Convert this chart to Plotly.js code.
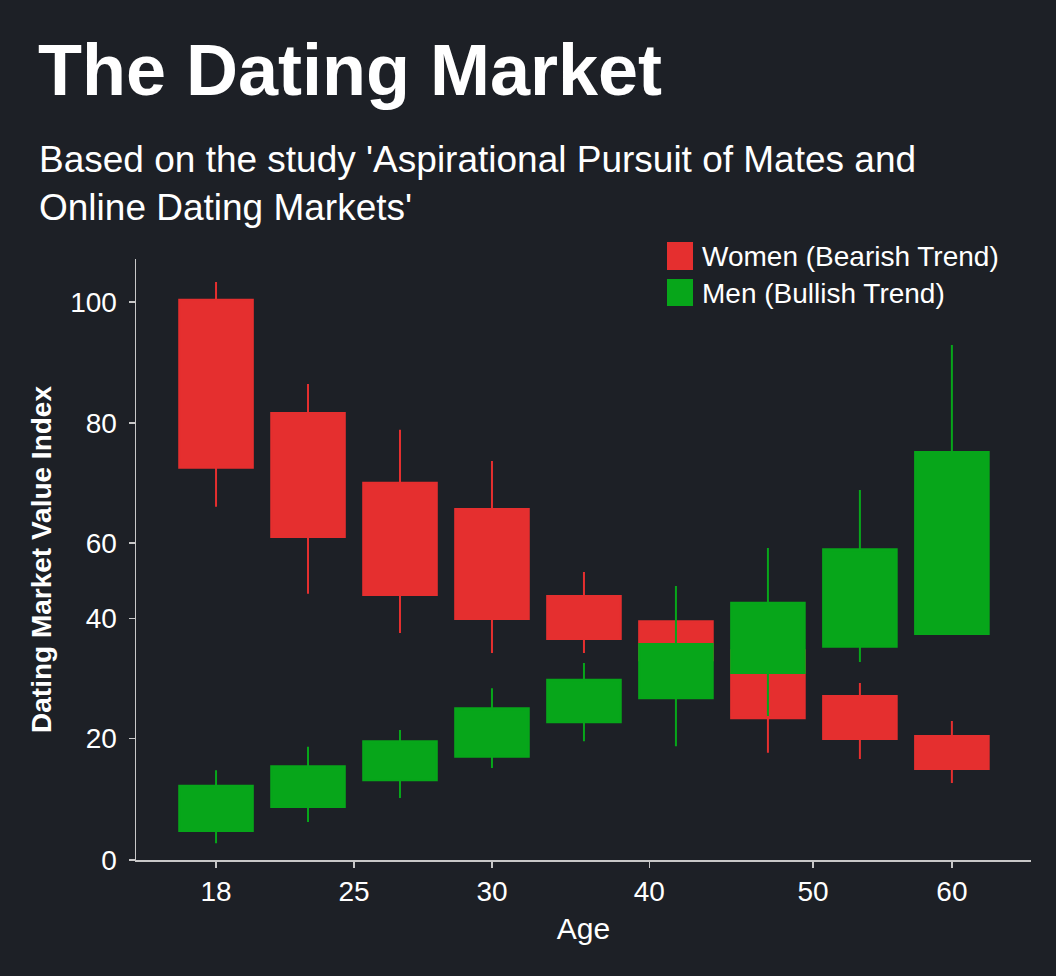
<!DOCTYPE html>
<html>
<head>
<meta charset="utf-8">
<script src="https://cdn.plot.ly/plotly-3.0.1.min.js"></script>
<style>
  html, body { margin: 0; padding: 0; background: #1d2026; }
  #chart { width: 1056px; height: 976px; }
</style>
</head>
<body>
<div id="chart"></div>
<script>
// Candle slots along the age axis (index positions)
const candleSlots = [0, 1, 2, 3, 4, 5, 6, 7, 8];

// Women (bearish): open, high, low, close — in the chart's axis units
const womenOpen  = [100.4, 80.1, 67.6, 62.9, 47.3, 42.8, 37.6, 29.4, 22.2];
const womenHigh  = [103.6, 85.3, 77.1, 71.5, 51.6, 42.8, 39.4, 31.7, 24.9];
const womenLow   = [63.3, 47.7, 40.7, 37.1, 37.1, 28.7, 19.2, 18.1, 13.8];
const womenClose = [70.3, 57.9, 47.5, 43.2, 39.6, 35.8, 25.4, 21.7, 16.3];

// Men (bullish): open, high, low, close
const menOpen  = [5.2, 9.5, 14.3, 18.5, 24.7, 29.0, 33.5, 38.2, 40.5];
const menHigh  = [16.1, 20.3, 23.3, 30.8, 35.3, 49.1, 55.9, 66.3, 92.3];
const menLow   = [3.0, 6.8, 11.1, 16.5, 21.3, 20.4, 25.8, 35.5, 40.5];
const menClose = [13.3, 16.8, 21.3, 27.2, 32.3, 38.7, 46.1, 55.7, 73.1];

// Tick labels as printed on the chart
const ageTickPos = [0, 1.5, 3, 4.71, 6.49, 8];
const ageTickText = ['18', '25', '30', '40', '50', '60'];
const valueTickPos = [0, 21.76, 43.28, 56.81, 78.32, 100];
const valueTickText = ['0', '20', '40', '60', '80', '100'];

const seriesNames = ['Women (Bearish Trend)', 'Men (Bullish Trend)'];
const RED = '#e52f2f';
const GREEN = '#07a61a';
const FONT = 'Liberation Sans, Arial, Helvetica, sans-serif';

const women = {
  type: 'candlestick',
  name: seriesNames[0],
  x: candleSlots,
  open: womenOpen, high: womenHigh, low: womenLow, close: womenClose,
  increasing: { line: { color: RED, width: 2 }, fillcolor: RED },
  decreasing: { line: { color: RED, width: 2 }, fillcolor: RED },
  showlegend: false,
  hoverinfo: 'skip'
};
const men = {
  type: 'candlestick',
  name: seriesNames[1],
  x: candleSlots,
  open: menOpen, high: menHigh, low: menLow, close: menClose,
  increasing: { line: { color: GREEN, width: 2 }, fillcolor: GREEN },
  decreasing: { line: { color: GREEN, width: 2 }, fillcolor: GREEN },
  showlegend: false,
  hoverinfo: 'skip'
};

// plot area: x 136..1031, y 259..860
const L = 136, R = 1031, T = 259, B = 860;
const px = v => (v - L) / (R - L);
const py = v => (B - v) / (B - T);

const layout = {
  width: 1056, height: 976,
  paper_bgcolor: '#1d2026',
  plot_bgcolor: '#1d2026',
  margin: { l: L, r: 1056 - R, t: T, b: 976 - B },
  font: { family: FONT, color: '#ffffff' },
  boxgap: 0.2,
  boxgroupgap: 0,
  title: {
    text: '<b>The Dating Market</b>',
    font: { family: FONT, size: 72, color: '#ffffff' },
    xref: 'container', yref: 'container',
    x: 38 / 1056, xanchor: 'left',
    y: 1 - 45 / 976, yanchor: 'top'
  },
  xaxis: {
    range: [-0.87, 8.86],
    rangeslider: { visible: false },
    tickmode: 'array', tickvals: ageTickPos, ticktext: ageTickText,
    ticks: 'outside', ticklen: 6, tickwidth: 1.5, tickcolor: '#c8c8c8',
    showline: true, linecolor: '#c8c8c8', linewidth: 1.5,
    showgrid: false, zeroline: false,
    tickfont: { family: FONT, size: 28, color: '#ffffff' },
    ticklabelstandoff: 0,
    title: { text: 'Age', font: { family: FONT, size: 30, color: '#ffffff' }, standoff: 12 },
    fixedrange: true
  },
  yaxis: {
    range: [0, 107.7],
    tickmode: 'array', tickvals: valueTickPos, ticktext: valueTickText,
    ticks: 'outside', ticklen: 6, tickwidth: 1.5, tickcolor: '#c8c8c8',
    showline: true, linecolor: '#c8c8c8', linewidth: 1.5,
    showgrid: false, zeroline: false,
    tickfont: { family: FONT, size: 28, color: '#ffffff' },
    ticklabelstandoff: 6,
    title: { text: '<b>Dating Market Value Index</b>', font: { family: FONT, size: 28, color: '#ffffff' }, standoff: 10 },
    fixedrange: true
  },
  showlegend: false,
  shapes: [
    { type: 'rect', xref: 'paper', yref: 'paper', x0: px(667), x1: px(693), y0: py(270), y1: py(242),
      fillcolor: RED, line: { width: 0 } },
    { type: 'rect', xref: 'paper', yref: 'paper', x0: px(667), x1: px(693), y0: py(306), y1: py(279),
      fillcolor: GREEN, line: { width: 0 } }
  ],
  annotations: [
    { text: "Based on the study 'Aspirational Pursuit of Mates and<br>Online Dating Markets'",
      xref: 'paper', yref: 'paper', x: px(37), y: py(137), xanchor: 'left', yanchor: 'top',
      align: 'left', showarrow: false,
      font: { family: FONT, size: 37, color: '#ffffff' } },
    { text: seriesNames[0], xref: 'paper', yref: 'paper', x: px(700), y: py(256),
      xanchor: 'left', yanchor: 'middle', showarrow: false,
      font: { family: FONT, size: 28, color: '#ffffff' } },
    { text: seriesNames[1], xref: 'paper', yref: 'paper', x: px(700), y: py(293),
      xanchor: 'left', yanchor: 'middle', showarrow: false,
      font: { family: FONT, size: 28, color: '#ffffff' } }
  ]
};

Plotly.newPlot('chart', [women, men], layout, { displayModeBar: false, staticPlot: true });
</script>
</body>
</html>
